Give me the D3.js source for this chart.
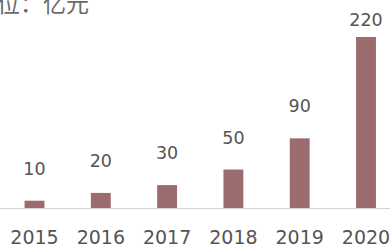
<!DOCTYPE html>
<html><head><meta charset="utf-8">
<script src="https://cdn.jsdelivr.net/npm/d3@7/dist/d3.min.js"></script>
<style>html,body{margin:0;padding:0;background:#fff;overflow:hidden}</style>
</head><body><svg id="c" width="390" height="245"></svg>
<script>
const years = ["2015","2016","2017","2018","2019","2020"];
const values = [10, 20, 30, 50, 90, 220];
const unitLabel = "单位：亿元";

const svg = d3.select("#c");
const W = 390, H = 245;
const baseY = 208.5, topY = 37;
const x = d3.scaleBand().domain(years).range([1.35, 399.15]).paddingInner(0.7).paddingOuter(0.35);
const y = d3.scaleLinear().domain([0, 220]).range([baseY, topY]);

svg.append("rect").attr("width", W).attr("height", H).attr("fill", "#fff");

svg.append("text").attr("x", -26).attr("y", 12)
  .attr("font-family", "Noto Sans CJK SC").attr("font-size", 23)
  .attr("fill", "#6a6a6a").text(unitLabel);

svg.selectAll("rect.bar").data(values).join("rect").attr("class", "bar")
  .attr("x", (d, i) => x(years[i])).attr("width", x.bandwidth())
  .attr("y", d => y(d)).attr("height", d => baseY - y(d))
  .attr("fill", "#9c6b6e");

svg.append("line").attr("x1", 0).attr("x2", W).attr("y1", baseY).attr("y2", baseY)
  .attr("stroke", "#d4d4d4").attr("stroke-width", 1.2);

svg.selectAll("text.val").data(values).join("text").attr("class", "val")
  .attr("x", (d, i) => x(years[i]) + x.bandwidth() / 2)
  .attr("y", d => Math.max(y(d) - 26, 26))
  .attr("text-anchor", "middle").attr("font-family", "DejaVu Sans").attr("font-size", 17.5)
  .attr("fill", "#555").text(d => d);

const xa = svg.append("g").attr("transform", `translate(0,${baseY})`)
  .call(d3.axisBottom(x).tickSize(0).tickPadding(0));
xa.select(".domain").remove();
xa.selectAll("text").attr("dy", 0).attr("y", 35.5)
  .attr("font-family", "DejaVu Sans").attr("font-size", 19).attr("fill", "#555");
</script></body></html>
